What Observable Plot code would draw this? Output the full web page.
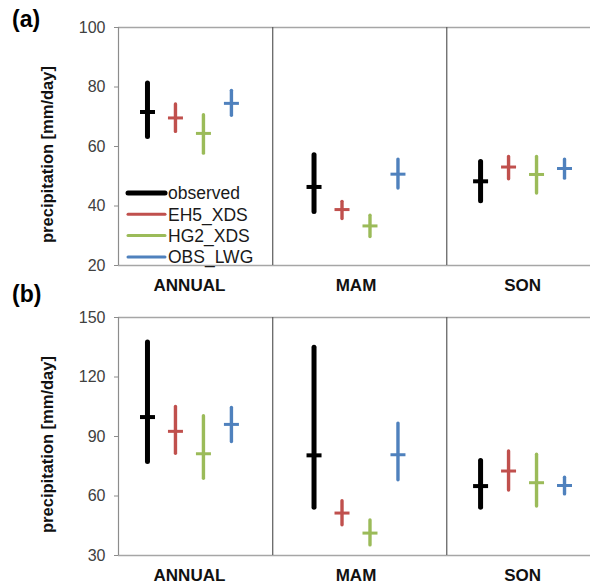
<!DOCTYPE html>
<html>
<head>
<meta charset="utf-8">
<script src="https://cdn.jsdelivr.net/npm/d3@7"></script>
<script src="https://cdn.jsdelivr.net/npm/@observablehq/plot@0.6"></script>
<style>
  html, body { margin: 0; padding: 0; background: white; }
  #wrap { position: relative; width: 590px; height: 585px; overflow: hidden; }
  #wrap svg { display: block; }
  #overlay { position: absolute; left: 0; top: 0; pointer-events: none; }
</style>
</head>
<body>
<div id="wrap"></div>
<script>
// ---- data ----
const categories = ["ANNUAL", "MAM", "SON"];
const series = ["observed", "EH5_XDS", "HG2_XDS", "OBS_LWG"];
const colors = ["#000000", "#C0504D", "#9BBB59", "#4F81BD"];
const panelLetters = ["(a)", "(b)"];
const yLabel = "precipitation [mm/day]";

// values ordered category-major: ANNUAL(obs, EH5, HG2, OBS), MAM(...), SON(...)
const aMean = [71.6, 69.6, 64.4, 74.5, 46.4, 38.8, 33.3, 50.7, 48.3, 53.1, 50.6, 52.6];
const aLow  = [63.2, 64.9, 57.6, 70.3, 38.0, 35.6, 29.6, 45.9, 41.6, 49.0, 44.2, 49.2];
const aHigh = [81.2, 74.1, 70.5, 78.7, 57.1, 41.4, 36.7, 55.6, 54.8, 56.5, 56.5, 55.6];

const bMean = [99.8, 92.6, 81.3, 96.1, 80.5, 51.4, 41.3, 80.8, 65.0, 72.6, 66.7, 65.3];
const bLow  = [77.1, 81.3, 68.7, 87.2, 54.1, 45.2, 35.1, 67.9, 54.1, 62.8, 54.7, 60.8];
const bHigh = [137.4, 104.9, 100.2, 104.4, 134.7, 57.4, 47.7, 96.5, 77.6, 82.5, 80.8, 69.2];

const aTicks = [20, 40, 60, 80, 100];
const bTicks = [30, 60, 90, 120, 150];

// ---- layout / style ----
const seriesStep = 0.168;           // spacing of series inside a category (category units)
const xDomain = [-0.426, 2.408];    // visible extent in category units
const dividers = [0.5, 1.545];
const font = "'Liberation Sans', Arial, sans-serif";
const widths = [5, 3.4, 3.4, 3.4];
const tickWidths = [4, 3, 3, 3];

const hTick = {
  draw(ctx, size) {
    const r = Math.sqrt(size / Math.PI);
    ctx.moveTo(-r, 0);
    ctx.lineTo(r, 0);
  }
};

function panel(mean, low, high, ticks, height, marginBottom) {
  const rows = mean.map((m, k) => {
    const c = Math.floor(k / 4), s = k % 4;
    return {cat: c, s, name: series[s], x: c + (s - 1.5) * seriesStep, mean: m, low: low[k], high: high[k]};
  });
  const marks = [
    Plot.ruleY([ticks[0], ticks[ticks.length - 1]], {stroke: "#a6a6a6", strokeWidth: 1.5}),
    Plot.ruleX(dividers, {stroke: "#5a5a5a", strokeWidth: 1.2}),
    Plot.ruleX([xDomain[0]], {stroke: "#8c8c8c", strokeWidth: 1.2}),
    Plot.axisY({ticks, tickSize: 4, tickPadding: 9, fontSize: 16, stroke: "#8c8c8c", fill: "#404040", label: null}),
    Plot.axisX({ticks: categories.map((d, i) => i), tickFormat: i => categories[i], tickSize: 0, tickPadding: 13,
      fontSize: 17, fontWeight: "bold", fill: "#111", label: null}),
    Plot.text([yLabel], {frameAnchor: "left", textAnchor: "middle", rotate: -90, dx: -71, dy: 8,
      fontSize: 16.5, fontWeight: "bold", fill: "#111"})
  ];
  series.forEach((name, s) => {
    const d = rows.filter(r => r.s === s);
    marks.push(Plot.ruleX(d, {x: "x", y1: "low", y2: "high", stroke: colors[s], strokeWidth: widths[s], strokeLinecap: "round"}));
    marks.push(Plot.dot(d, {x: "x", y: "mean", symbol: hTick, r: 7.5, stroke: colors[s], strokeWidth: tickWidths[s], fill: "none", strokeLinecap: "butt"}));
  });
  return Plot.plot({
    width: 590, height, marginLeft: 118, marginRight: 0, marginTop: 27, marginBottom,
    x: {domain: xDomain, axis: null},
    y: {domain: [ticks[0], ticks[ticks.length - 1]], axis: null},
    style: {fontFamily: font, background: "white", overflow: "visible"},
    marks
  });
}

const wrap = document.getElementById("wrap");
wrap.appendChild(panel(aMean, aLow, aHigh, aTicks, 290, 25));
wrap.appendChild(panel(bMean, bLow, bHigh, bTicks, 295, 30));

// overlay: panel letters and in-plot legend
const ov = d3.select(wrap).append("svg").attr("id", "overlay").attr("width", 590).attr("height", 585)
  .style("font-family", font);
ov.selectAll("text.letter").data(panelLetters).join("text")
  .attr("class", "letter")
  .attr("x", 12).attr("y", (d, i) => i === 0 ? 27 : 302)
  .attr("font-size", 23).attr("font-weight", "bold").attr("fill", "#000")
  .text(d => d);

const lg = ov.append("g").attr("transform", "translate(128,193)");
const item = lg.selectAll("g").data(series).join("g").attr("transform", (d, i) => `translate(0,${i * 21.3})`);
item.append("line").attr("x1", 0).attr("x2", 37).attr("y1", 0).attr("y2", 0)
  .attr("stroke", (d, i) => colors[i]).attr("stroke-width", (d, i) => i === 0 ? 5 : 3).attr("stroke-linecap", "round");
item.append("text").attr("x", 40).attr("y", 0).attr("dy", "0.36em")
  .attr("font-size", 17.5).attr("fill", "#1a1a1a").text(d => d);
</script>
</body>
</html>
